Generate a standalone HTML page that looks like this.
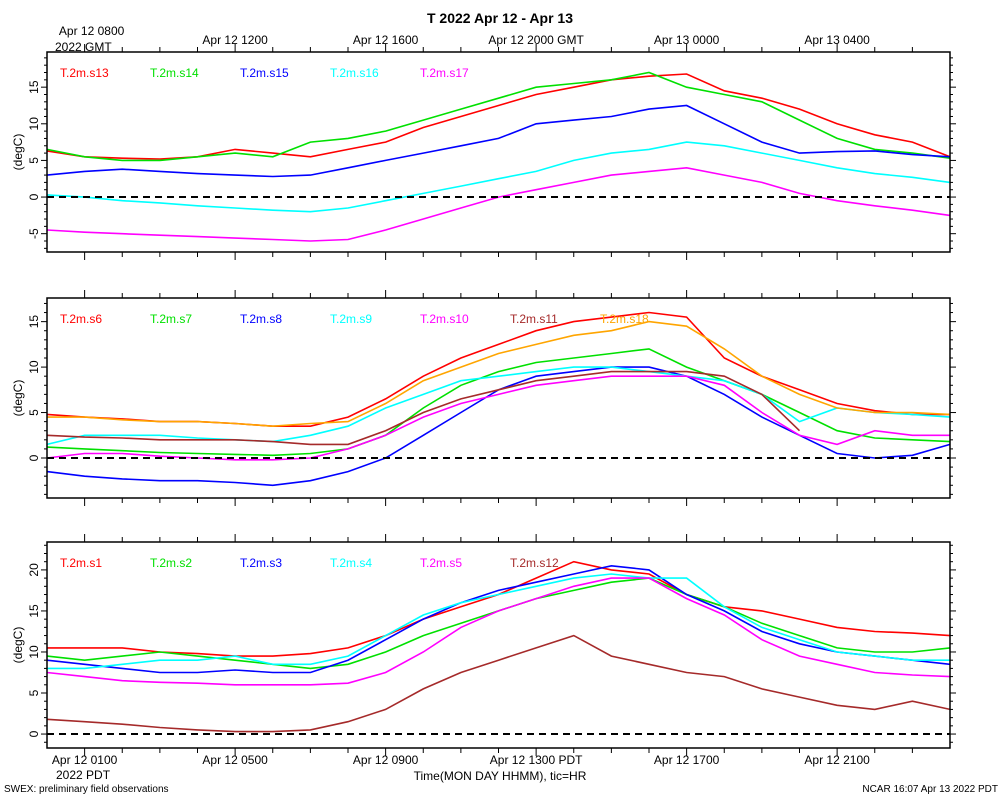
<!DOCTYPE html>
<html><head><meta charset="utf-8"><style>
body{margin:0;background:#fff;}
svg{font-family:"Liberation Sans",sans-serif;}
</style></head><body>
<svg id="chart" width="1000" height="800" xmlns="http://www.w3.org/2000/svg">
<text x="500" y="23" text-anchor="middle" font-size="14" font-weight="bold">T 2022 Apr 12 - Apr 13</text>
<text x="4" y="792" font-size="10">SWEX: preliminary field observations</text>
<text x="998" y="792" font-size="10" text-anchor="end">NCAR 16:07 Apr 13 2022 PDT</text>
<text x="500" y="780" font-size="12" text-anchor="middle">Time(MON DAY HHMM), tic=HR</text>
<text x="56" y="779" font-size="12">2022 PDT</text>
<text x="55" y="51" font-size="12">2022 GMT</text>
</svg>
<script>
const hours=[0,1,2,3,4,5,6,7,8,9,10,11,12,13,14,15,16,17,18,19,20,21,22,23,24];
const bottomTickLabels=["Apr 12 0100","Apr 12 0500","Apr 12 0900","Apr 12 1300 PDT","Apr 12 1700","Apr 12 2100"];
const bottomTickHours=[1,5,9,13,17,21];
const topTickLabels=["Apr 12 0800","Apr 12 1200","Apr 12 1600","Apr 12 2000 GMT","Apr 13 0000","Apr 13 0400"];
const p1Names=["T.2m.s13","T.2m.s14","T.2m.s15","T.2m.s16","T.2m.s17"];
const p1Colors=["#ff0000","#00e000","#0000ff","#00ffff","#ff00ff"];
const s13=[6.3,5.5,5.3,5.2,5.5,6.5,6.0,5.5,6.5,7.5,9.5,11,12.5,14,15,16,16.5,16.8,14.5,13.5,12,10,8.5,7.5,5.5];
const s14=[6.5,5.5,5.0,5.0,5.5,6,5.5,7.5,8,9,10.5,12,13.5,15,15.5,16,17,15,14,13,10.5,8,6.5,6,5.3];
const s15=[3,3.5,3.8,3.5,3.2,3,2.8,3,4,5,6,7,8,10,10.5,11,12,12.5,10,7.5,6,6.2,6.3,5.8,5.5];
const s16=[0.3,0,-0.5,-0.8,-1.2,-1.5,-1.8,-2,-1.5,-0.5,0.5,1.5,2.5,3.5,5,6,6.5,7.5,7,6,5,4,3.2,2.7,2];
const s17=[-4.5,-4.8,-5,-5.2,-5.4,-5.6,-5.8,-6,-5.8,-4.5,-3,-1.5,0,1,2,3,3.5,4,3,2,0.5,-0.5,-1.2,-1.8,-2.5];
const p2Names=["T.2m.s6","T.2m.s7","T.2m.s8","T.2m.s9","T.2m.s10","T.2m.s11","T.2m.s18"];
const p2Colors=["#ff0000","#00e000","#0000ff","#00ffff","#ff00ff","#a52a2a","#ffa500"];
const s6=[4.8,4.5,4.3,4,4,3.8,3.5,3.5,4.5,6.5,9,11,12.5,14,15,15.5,16,15.5,11,9,7.5,6,5.2,4.8,4.8];
const s7=[1.2,1,0.8,0.6,0.5,0.4,0.3,0.5,1,2.5,5.5,8,9.5,10.5,11,11.5,12,10,8.5,7,5,3,2.2,2,1.8];
const s8=[-1.5,-2,-2.3,-2.5,-2.5,-2.7,-3,-2.5,-1.5,0,2.5,5,7.5,9,9.5,10,10,9,7,4.5,2.5,0.5,0,0.3,1.5];
const s9=[1.5,2.5,2.5,2.5,2.2,2,1.8,2.5,3.5,5.5,7,8.5,9,9.5,10,10,9.5,9,8.5,7,4,5.5,5,4.8,4.5];
const s10=[0,0.5,0.5,0.2,0,-0.2,-0.2,0,1,2.5,4.5,6,7,8,8.5,9,9,9,8,5,2.5,1.5,3,2.5,2.5];
const s11=[2.5,2.3,2.2,2,2,2,1.8,1.5,1.5,3,5,6.5,7.5,8.5,9,9.5,9.5,9.5,9,7,3,null,null,null,null];
const s18=[4.5,4.5,4.2,4,4,3.8,3.5,3.8,4,6,8.5,10,11.5,12.5,13.5,14,15,14.5,12,9,7,5.5,5,5,4.8];
const p3Names=["T.2m.s1","T.2m.s2","T.2m.s3","T.2m.s4","T.2m.s5","T.2m.s12"];
const p3Colors=["#ff0000","#00e000","#0000ff","#00ffff","#ff00ff","#a52a2a"];
const s1=[10.5,10.5,10.5,10,9.8,9.5,9.5,9.8,10.5,12,14,15.5,17,19,21,20,19.5,17,15.5,15,14,13,12.5,12.3,12];
const s2=[9.5,9,9.5,10,9.5,9,8.5,8,8.5,10,12,13.5,15,16.5,17.5,18.5,19,17,15.5,13.5,12,10.5,10,10,10.5];
const s3=[9,8.5,8,7.5,7.5,7.8,7.5,7.5,9,11.5,14,16,17.5,18.5,19.5,20.5,20,17,15,12.5,11,10,9.5,9,8.5];
const s4=[8,8,8.5,9,9,9.5,8.5,8.5,9.5,12,14.5,16,17,18,19,19.5,19,19,15.5,13,11.5,10,9.5,9,9];
const s5=[7.5,7,6.5,6.3,6.2,6,6,6,6.2,7.5,10,13,15,16.5,18,19,19,16.5,14.5,11.5,9.5,8.5,7.5,7.2,7];
const s12=[1.8,1.5,1.2,0.8,0.5,0.3,0.3,0.5,1.5,3,5.5,7.5,9,10.5,12,9.5,8.5,7.5,7,5.5,4.5,3.5,3,4,3];
const p1Ticks=[-5,0,5,10,15], p2Ticks=[0,5,10,15], p3Ticks=[0,5,10,15,20];

const svg=document.getElementById('chart');
const NS="http://www.w3.org/2000/svg";
const X0=47,X1=950;
function xs(h){return X0+(h/24)*(X1-X0);}
function mk(tag,attrs,parent){const e=document.createElementNS(NS,tag);for(const k in attrs)e.setAttribute(k,attrs[k]);(parent||svg).appendChild(e);return e;}

const panels=[
 {top:52,bot:252,ymin:-7.5,ymax:19.8,ticks:p1Ticks,names:p1Names,colors:p1Colors,series:[s13,s14,s15,s16,s17]},
 {top:298,bot:498,ymin:-4.4,ymax:17.6,ticks:p2Ticks,names:p2Names,colors:p2Colors,series:[s6,s7,s8,s9,s10,s11,s18]},
 {top:542,bot:748,ymin:-1.7,ymax:23.4,ticks:p3Ticks,names:p3Names,colors:p3Colors,series:[s1,s2,s3,s4,s5,s12]}
];
panels.forEach((p,pi)=>{
 const g=mk('g',{});
 
 
 const ys=v=>p.bot-(v-p.ymin)/(p.ymax-p.ymin)*(p.bot-p.top);
 // series
 p.series.forEach((s,si)=>{
  let d='',pen=false;
  s.forEach((v,i)=>{if(v===null){pen=false;return;}d+=(pen?'L':'M')+xs(hours[i]).toFixed(1)+','+ys(v).toFixed(1);pen=true;});
  const path=mk('path',{d:d,fill:'none',stroke:p.colors[si],'stroke-width':1.6},g);
  
  
  const lt=mk('text',{x:60+si*90,y:p.top+25,fill:p.colors[si],'font-size':12},g);
  lt.textContent=p.names[si];
  
  
 });
 // zero line
 const z=mk('line',{x1:X0,x2:X1,y1:ys(0),y2:ys(0),stroke:'#000','stroke-width':2,'stroke-dasharray':'7,5'},g);
 
 
 // frame
 const r=mk('rect',{x:X0,y:p.top,width:X1-X0,height:p.bot-p.top,fill:'none',stroke:'#000','stroke-width':1.5},g);
 
 
 // x ticks
 for(let h=1;h<=23;h++){
  const big=(h-1)%4===0, L=big?8:5;
  mk('line',{x1:xs(h),x2:xs(h),y1:p.bot,y2:p.bot+L,stroke:'#000'},g);
  mk('line',{x1:xs(h),x2:xs(h),y1:p.top,y2:p.top-L,stroke:'#000'},g);
 }
 // y ticks
 p.ticks.forEach(t=>{
  const y=ys(t);
  mk('line',{x1:X0-6,x2:X0,y1:y,y2:y,stroke:'#000'},g);
  mk('line',{x1:X1,x2:X1+6,y1:y,y2:y,stroke:'#000'},g);
  const tl=mk('text',{x:0,y:0,transform:`translate(38,${y}) rotate(-90)`,'text-anchor':'middle','font-size':12},g);
  tl.textContent=t;
  
  
 });
 for(let v=Math.ceil(p.ymin);v<=p.ymax;v++){ if(v%5!==0){const y=ys(v);mk('line',{x1:X0-3,x2:X0,y1:y,y2:y,stroke:'#000'},g);mk('line',{x1:X1,x2:X1+3,y1:y,y2:y,stroke:'#000'},g);} }
 const yt=mk('text',{x:0,y:0,transform:`translate(22,${(p.top+p.bot)/2}) rotate(-90)`,'text-anchor':'middle','font-size':12},g);
 yt.textContent='(degC)';
 
 
});
bottomTickHours.forEach((h,i)=>{
 const t=mk('text',{x:xs(h),y:764,'text-anchor':'middle','font-size':12});
 t.textContent=bottomTickLabels[i];
 
 
 const t2=mk('text',{x:xs(h)+(i===0?7:0),y:i===0?35:44,'text-anchor':'middle','font-size':12});
 t2.textContent=topTickLabels[i];
 
 
});
</script>
</body></html>
